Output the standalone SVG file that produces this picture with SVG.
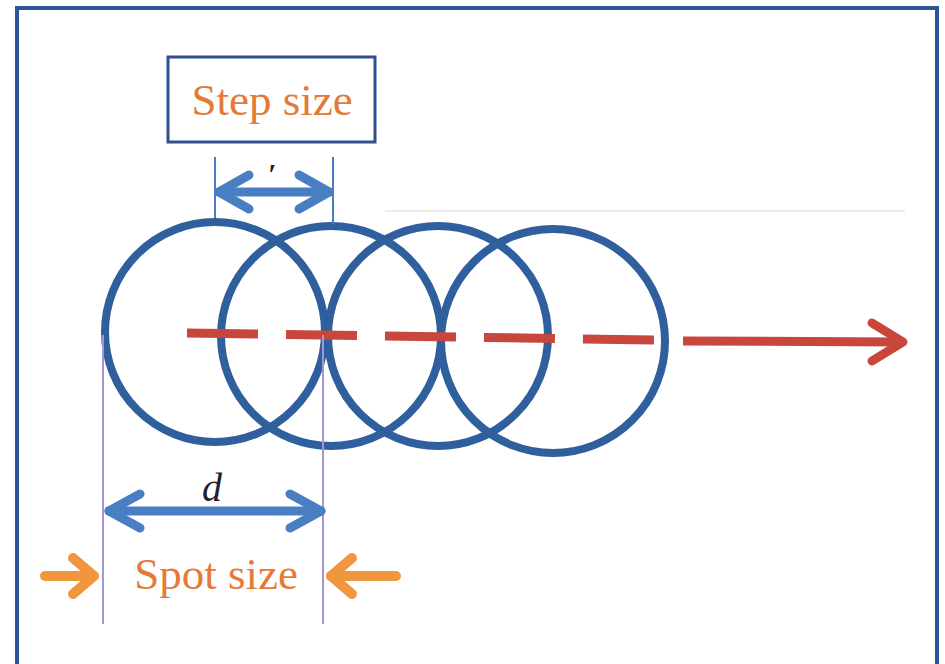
<svg xmlns="http://www.w3.org/2000/svg" width="945" height="664" viewBox="0 0 945 664">
<style>
.circ{fill:none;stroke:#2F5F9C;stroke-width:8}
.blue{fill:none;stroke:#4A7EC2;stroke-width:9;stroke-linecap:round;stroke-linejoin:round}
.thinblue{stroke:#4A7EC2;stroke-width:2}
.purple{stroke:#A396D4;stroke-width:2}
.orange{fill:none;stroke:#F0963F;stroke-width:10;stroke-linecap:round;stroke-linejoin:round}
.red{fill:none;stroke:#C9463D;stroke-width:9}
.lbl{font-family:"Liberation Serif",serif;font-size:45px;fill:#E47A36}
</style>
<rect x="17" y="8" width="920" height="670" fill="#fff" stroke="#2E5597" stroke-width="4"/>
<line x1="385" y1="211" x2="905" y2="211" stroke="#ECECEC" stroke-width="2"/>
<g id="circles">
<circle id="spot1" class="circ" cx="215" cy="332" r="110"/>
<circle id="spot2" class="circ" cx="331" cy="336" r="110"/>
<circle id="spot3" class="circ" cx="438" cy="336" r="110"/>
<circle id="spot4" class="circ" cx="553" cy="341" r="112"/>
</g>
<g id="connectors">
<line class="red" x1="187" y1="333" x2="657" y2="340" stroke-dasharray="71 28"/>
<line class="red" x1="683" y1="341" x2="900" y2="342"/>
<polyline class="red" points="872,323 903,342 872,361" stroke-width="10" stroke-linecap="round" stroke-linejoin="round"/>
<line class="thinblue" x1="215" y1="157" x2="215" y2="218"/>
<line class="thinblue" x1="333" y1="157" x2="333" y2="224"/>
<line class="blue" x1="219" y1="192" x2="329" y2="192"/>
<polyline class="blue" points="249,175 219,192 249,209"/>
<polyline class="blue" points="299,175 329,192 299,209"/>
<line class="purple" x1="103" y1="335" x2="103" y2="624"/>
<line class="purple" x1="323" y1="335" x2="323" y2="624"/>
<line class="blue" x1="109" y1="511" x2="321" y2="511"/>
<polyline class="blue" points="140,494 109,511 140,528"/>
<polyline class="blue" points="290,494 321,511 290,528"/>
<line class="orange" x1="45" y1="576" x2="94" y2="576"/>
<polyline class="orange" points="73,558 94,576 73,594"/>
<line class="orange" x1="331" y1="576" x2="396" y2="576"/>
<polyline class="orange" points="352,558 331,576 352,594"/>
</g>
<g id="stepbox">
<rect x="168" y="57" width="207" height="85" fill="#fff" stroke="#2F4F8F" stroke-width="3"/>
<text class="lbl" x="272" y="115" text-anchor="middle">Step size</text>
</g>
<g id="labels">
<text x="272" y="184" font-family="Liberation Serif,serif" font-style="italic" font-weight="bold" font-size="30" fill="#1F1F2E" text-anchor="middle">′</text>
<text x="212" y="501" font-family="Liberation Serif,serif" font-style="italic" font-size="40" fill="#1F1F2E" text-anchor="middle">d</text>
<text class="lbl" x="216" y="589" text-anchor="middle">Spot size</text>
</g>
</svg>
